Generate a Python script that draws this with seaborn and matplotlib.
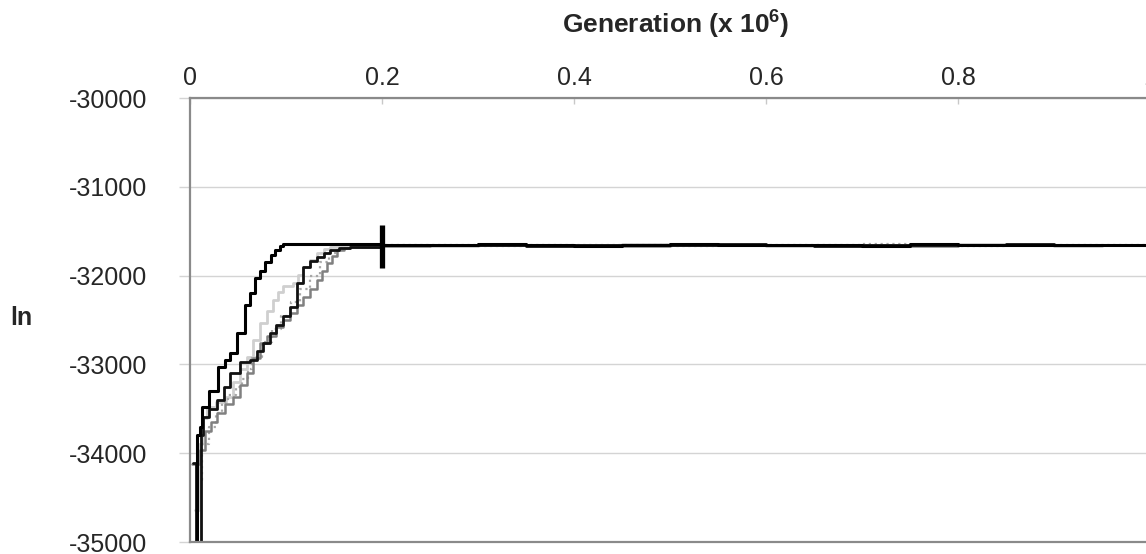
import matplotlib
matplotlib.use("Agg")
import matplotlib.pyplot as plt
import pandas as pd
import seaborn as sns

# Generation in millions, ln likelihood per MCMC run
PLATEAU_X = [0.2, 0.25, 0.3, 0.35, 0.4, 0.45, 0.5, 0.55, 0.6, 0.65,
             0.7, 0.75, 0.8, 0.85, 0.9, 0.95, 1.0]

RUN_A_X = [0.004, 0.007, 0.010, 0.0125, 0.020, 0.029, 0.036, 0.042, 0.049,
           0.057, 0.063, 0.068, 0.073, 0.078, 0.084, 0.089, 0.094, 0.097,
           0.12, 0.15]
RUN_A_Y = [-35000, -33790, -33700, -33475, -33300, -33025, -32950, -32870,
           -32645, -32330, -32200, -32025, -31950, -31845, -31770, -31710,
           -31670, -31640, -31645, -31640]
RUN_A_PLATEAU = [-31650, -31660, -31645, -31655, -31665, -31650, -31645,
                 -31660, -31655, -31650, -31665, -31645, -31655, -31660,
                 -31650, -31655, -31650]

RUN_B_X = [0.003, 0.006, 0.011, 0.014, 0.020, 0.028, 0.035, 0.042, 0.052,
           0.0625, 0.070, 0.076, 0.083, 0.090, 0.097, 0.104, 0.111, 0.118,
           0.125, 0.132, 0.140, 0.146, 0.155, 0.167]
RUN_B_Y = [-34110, -35000, -33800, -33590, -33500, -33400, -33250, -33095,
           -32970, -32950, -32850, -32760, -32650, -32555, -32450, -32350,
           -32080, -31900, -31840, -31790, -31740, -31710, -31690, -31675]
RUN_B_PLATEAU = [-31660, -31650, -31655, -31665, -31650, -31660, -31655,
                 -31645, -31660, -31665, -31650, -31655, -31660, -31645,
                 -31655, -31660, -31655]

RUN_C_X = [0.005, 0.009, 0.013, 0.018, 0.027, 0.038, 0.045, 0.052, 0.059,
           0.066, 0.073, 0.080, 0.086, 0.092, 0.097, 0.107, 0.113, 0.118,
           0.125, 0.132, 0.140, 0.146, 0.16]
RUN_C_Y = [-34640, -33900, -33600, -33475, -33420, -33370, -33200, -33050,
           -32920, -32720, -32530, -32400, -32270, -32180, -32120, -32080,
           -31990, -31900, -31820, -31745, -31700, -31675, -31655]
RUN_C_PLATEAU = [-31655, -31665, -31650, -31660, -31655, -31645, -31660,
                 -31650, -31665, -31655, -31650, -31660, -31645, -31655,
                 -31665, -31650, -31660]

RUN_D_X = [0.002, 0.010, 0.016, 0.022, 0.028, 0.036, 0.045, 0.052, 0.059,
           0.066, 0.073, 0.080, 0.090, 0.097, 0.104, 0.111, 0.118, 0.125,
           0.132, 0.138, 0.143, 0.148, 0.153, 0.160, 0.167]
RUN_D_Y = [-34120, -33960, -33750, -33650, -33545, -33450, -33370, -33230,
           -33095, -32930, -32760, -32680, -32575, -32500, -32420, -32330,
           -32240, -32150, -32050, -31950, -31860, -31780, -31710, -31690,
           -31675]
RUN_D_PLATEAU = [-31665, -31655, -31660, -31650, -31660, -31665, -31650,
                 -31655, -31660, -31650, -31655, -31665, -31650, -31660,
                 -31655, -31650, -31665]

RUN_E_X = [0.006, 0.012, 0.020, 0.027, 0.033, 0.040, 0.048, 0.054, 0.060,
           0.065, 0.075, 0.085, 0.095, 0.105, 0.115, 0.125, 0.135, 0.145,
           0.155, 0.165]
RUN_E_Y = [-34300, -33900, -33700, -33550, -33420, -33350, -33250, -33170,
           -33050, -32915, -32750, -32600, -32450, -32300, -32150, -32000,
           -31850, -31740, -31690, -31665]
RUN_E_PLATEAU = [-31650, -31655, -31665, -31650, -31660, -31655, -31665,
                 -31650, -31655, -31660, -31645, -31655, -31665, -31650,
                 -31660, -31650, -31655]

BURNIN_X = 0.2
BURNIN_Y = [-31910, -31430]

X_TICKS = [0, 0.2, 0.4, 0.6, 0.8, 1.0]
X_TICK_LABELS = ["0", "0.2", "0.4", "0.6", "0.8", "1"]
Y_TICKS = [-35000, -34000, -33000, -32000, -31000, -30000]


def build_frame() -> pd.DataFrame:
    runs = {
        "C": (RUN_C_X, RUN_C_Y, RUN_C_PLATEAU),
        "E": (RUN_E_X, RUN_E_Y, RUN_E_PLATEAU),
        "D": (RUN_D_X, RUN_D_Y, RUN_D_PLATEAU),
        "B": (RUN_B_X, RUN_B_Y, RUN_B_PLATEAU),
        "A": (RUN_A_X, RUN_A_Y, RUN_A_PLATEAU),
    }
    frames = []
    for name, (xs, ys, plateau) in runs.items():
        frames.append(pd.DataFrame({
            "gen": list(xs) + PLATEAU_X,
            "lnL": list(ys) + plateau,
            "run": name,
        }))
    return pd.concat(frames, ignore_index=True)


def main() -> None:
    sns.set_theme(style="white")
    plt.rcParams["font.family"] = ["Liberation Sans", "DejaVu Sans"]
    plt.rcParams["mathtext.fontset"] = "custom"
    plt.rcParams["mathtext.rm"] = "Liberation Sans"
    plt.rcParams["mathtext.bf"] = "Liberation Sans:bold"

    df = build_frame()
    styles = {
        "C": ("#cfcfcf", 2.0, "-"),
        "E": ("#a8a8a8", 1.6, ":"),
        "D": ("#808080", 1.8, "-"),
        "B": ("#111111", 2.0, "-"),
        "A": ("#000000", 2.2, "-"),
    }

    fig = plt.figure(figsize=(11.46, 5.54), dpi=100)
    ax = fig.add_axes([190 / 1146, 12 / 554, 960 / 1146, 444 / 554])

    for name, (color, lw, ls) in styles.items():
        sns.lineplot(
            data=df[df["run"] == name], x="gen", y="lnL",
            color=color, linewidth=lw, linestyle=ls,
            drawstyle="steps-post", estimator=None, sort=False,
            legend=False, ax=ax,
        )

    ax.vlines(BURNIN_X, BURNIN_Y[0], BURNIN_Y[1], color="black", linewidth=3.8)

    ax.set_xlim(0, 1)
    ax.set_ylim(-35000, -30000)
    ax.set_xticks(X_TICKS, labels=X_TICK_LABELS)
    ax.set_yticks(Y_TICKS, labels=[str(v) for v in Y_TICKS])
    ax.xaxis.tick_top()
    ax.set_xlabel("")
    ax.set_ylabel("")

    ax.yaxis.grid(True, color="#d4d4d4", linewidth=1)
    ax.tick_params(axis="y", left=True, length=8, width=1, color="#d4d4d4",
                   pad=23, labelsize=18)
    ax.tick_params(axis="x", top=True, direction="in", length=4, width=1,
                   color="#c8c8c8", pad=6, labelsize=18)

    for side in ["left", "top", "bottom"]:
        ax.spines[side].set_color("#8a8a8a")
        ax.spines[side].set_linewidth(1.6)
    ax.spines["right"].set_visible(False)

    fig.text(676 / 1146, 1 - 24 / 554, "Generation (x 10$^{\\mathbf{6}}$)",
             ha="center", va="center", fontsize=19, fontweight="bold")
    fig.text(21 / 1146, 1 - 318 / 554, "ln", ha="center", va="center",
             fontsize=18, fontweight="bold")

    fig.savefig("out.png", dpi=100)
    plt.close(fig)


if __name__ == "__main__":
    main()
